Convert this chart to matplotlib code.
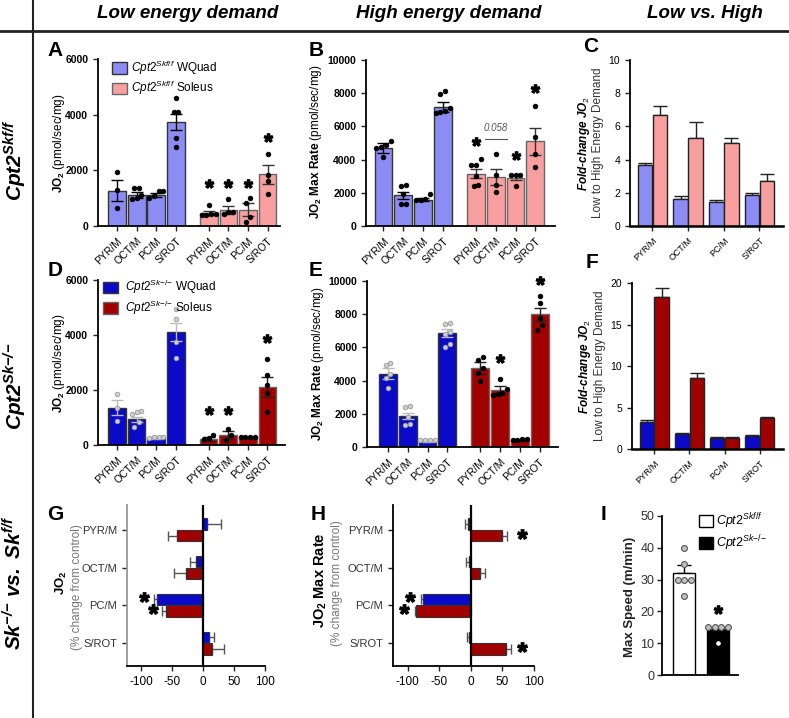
import numpy as np
import matplotlib
matplotlib.use('Agg')
import matplotlib.pyplot as plt
from matplotlib.patches import Patch
from matplotlib.lines import Line2D
from matplotlib.textpath import TextPath
from matplotlib.path import Path
from matplotlib.font_manager import FontProperties

plt.rcParams['font.family'] = ['Liberation Sans', 'DejaVu Sans']
plt.rcParams['mathtext.fontset'] = 'custom'
plt.rcParams['mathtext.rm'] = 'Liberation Sans'
plt.rcParams['mathtext.it'] = 'Liberation Sans:italic'
plt.rcParams['mathtext.bf'] = 'Liberation Sans:bold'
plt.rcParams['mathtext.sf'] = 'Liberation Sans:bold:italic'
plt.rcParams['axes.unicode_minus'] = False

subs = ['PYR/M', 'OCT/M', 'PC/M', 'S/ROT']

# A  low energy demand, Cpt2 Skf/f
a_wq = [1270, 1115, 1115, 3725]
a_wq_err = [380, 120, 80, 290]
a_wq_pts = [[1930, 1290, 635], [1380, 1370, 1120, 990, 970], [1260, 1250, 1080, 1000],
            [4590, 4090, 4080, 3150, 2830]]
a_sol = [480, 575, 587, 1855]
a_sol_err = [70, 140, 240, 330]
a_sol_pts = [[755, 430, 420, 410, 400], [970, 520, 510, 420], [1020, 820, 320, 150],
             [2600, 1850, 1600, 1140]]
a_star = [1410, 1410, 1410, 3050]

# B  high energy demand, Cpt2 Skf/f
b_wq = [4670, 1850, 1590, 7140]
b_wq_err = [300, 200, 100, 300]
b_wq_pts = [[5100, 4850, 4750, 4700, 4170], [2450, 2430, 1950, 1350, 1330],
            [1910, 1600, 1590, 1580], [8150, 7950, 7100, 6900, 6850, 6800]]
b_sol = [3150, 2950, 2900, 5100]
b_sol_err = [260, 500, 150, 800]
b_sol_pts = [[4050, 3700, 3650, 3000, 2450, 2400], [4330, 3050, 2500, 2050],
             [3100, 3080, 3060, 2400], [7230, 5370, 4330, 3560]]
b_star = [4870, None, 4040, 8070]
b_pval = '0.058'
b_pval_y = 5270

# C  fold change, Cpt2 Skf/f
c_wq = [3.65, 1.62, 1.47, 1.88]
c_wq_err = [0.15, 0.2, 0.07, 0.08]
c_sol = [6.7, 5.3, 5.0, 2.7]
c_sol_err = [0.5, 0.95, 0.3, 0.45]

# D  low energy demand, Cpt2 Sk-/-
d_wq = [1360, 935, 250, 4110]
d_wq_err = [270, 100, 30, 320]
d_wq_pts = [[1850, 1330, 870], [1240, 1200, 1120, 850, 670], [300, 290, 280, 270],
            [4960, 4600, 3760, 3150]]
d_sol = [220, 365, 280, 2120]
d_sol_err = [60, 150, 20, 370]
d_sol_pts = [[365, 240, 220], [600, 360, 180], [300, 295, 290, 285],
             [3130, 2550, 2180, 1880, 1190]]
d_star = [1115, 1115, None, 3760]

# E  high energy demand, Cpt2 Sk-/-
e_wq = [4420, 1870, 340, 6850]
e_wq_err = [330, 200, 40, 250]
e_wq_pts = [[5050, 4950, 4400, 4150, 3550], [2450, 2380, 1800, 1400, 1350],
            [440, 430, 420, 410], [7500, 7400, 6900, 6800, 6200, 6000]]
e_sol = [4760, 3410, 400, 7990]
e_sol_err = [380, 240, 30, 390]
e_sol_pts = [[5450, 5250, 4750, 4450, 3950], [4100, 3500, 3250, 3200, 3150],
             [480, 460, 450, 440], [9080, 8670, 7770, 7330, 7030]]
e_star = [None, 5120, None, 9840]

# F  fold change, Cpt2 Sk-/-
f_wq = [3.2, 1.8, 1.3, 1.6]
f_wq_err = [0.25, 0.15, 0.1, 0.08]
f_sol = [18.3, 8.5, 1.3, 3.7]
f_sol_err = [1.1, 0.7, 0.2, 0.2]

# G / H  % change from control
g_wq = [7, -12, -74, 10]
g_wq_err = [22, 9, 6, 8]
g_sol = [-43, -27, -60, 15]
g_sol_err = [13, 20, 6, 19]
g_star_wq = [None, None, -95, None]
g_star_sol = [None, None, -81, None]

h_wq = [-4, -3, -75, -3]
h_wq_err = [5, 5, 3, 3]
h_sol = [50, 14, -86, 55]
h_sol_err = [8, 8, 2, 8]
h_star_wq = [None, None, -96, None]
h_star_sol = [81, None, -106, 81]

# I  treadmill
i_mean = [32, 14]
i_err = [2.5, 0.6]
i_pts = [[40, 35, 30, 30, 30, 25], [15, 15, 15, 15, 10]]
i_star = 19.5

# colours
lblue, pink = '#8c8cf5', '#fa9f9f'
dblue, dred = '#0a0ac8', '#a00000'

W, H = 789, 718
fig = plt.figure(figsize=(W / 100, H / 100), dpi=100)


def px_axes(l, t, r, b):
    return fig.add_axes([l / W, 1 - b / H, (r - l) / W, (b - t) / H])


def ftext(x, y, s, **kw):
    kw.setdefault('ha', 'center')
    kw.setdefault('va', 'center')
    return fig.text(x / W, 1 - y / H, s, **kw)


tp = TextPath((0, 0), '*', size=1, prop=FontProperties(family='Liberation Sans', weight='bold'))
v = tp.vertices
star = Path(v - (v.min(0) + v.max(0)) / 2, tp.codes)


def swarm(vals, span, width=0.24):
    vals = np.asarray(vals, float)
    order = np.argsort(vals)
    offs = np.zeros(len(vals))
    groups, cur = [], [order[0]]
    for i in order[1:]:
        if abs(vals[i] - vals[cur[-1]]) < span:
            cur.append(i)
        else:
            groups.append(cur)
            cur = [i]
    groups.append(cur)
    for g in groups:
        for k, i in enumerate(g):
            offs[i] = (k - (len(g) - 1) / 2) * width
    return offs


def style(ax, lw=1.3):
    for s in ['top', 'right']:
        ax.spines[s].set_visible(False)
    ax.spines['left'].set_linewidth(lw)
    ax.spines['bottom'].set_linewidth(lw)
    ax.tick_params(width=1, length=3.5, color='#222')


def bar_panel(ax, vals1, err1, pts1, vals2, err2, pts2, stars, c1, c2, ymax,
              pc1=('k', 'k'), ec1='k', ec2='#222', xr=8.3):
    x1 = np.arange(4)
    x2 = np.arange(4) + 4.67
    ax.bar(x1, vals1, 0.9, color=c1, edgecolor='#333', lw=1, zorder=2)
    ax.bar(x2, vals2, 0.9, color=c2, edgecolor='#666', lw=1, zorder=2)
    ax.errorbar(x1, vals1, yerr=err1, fmt='none', ecolor=ec1, elinewidth=1, capsize=4, zorder=3)
    ax.errorbar(x2, vals2, yerr=err2, fmt='none', ecolor=ec2, elinewidth=1, capsize=4, zorder=3)
    for xs, pts, pc in [(x1, pts1, pc1), (x2, pts2, ('k', 'k'))]:
        for x, p in zip(xs, pts):
            ax.plot(x + swarm(p, 0.035 * ymax), p, 'o', ms=3.3, mfc=pc[0], mec=pc[1],
                    mew=0.6, ls='none', zorder=4)
    for x, s in zip(x2, stars):
        if s is not None:
            ax.plot(x, s, marker=star, ms=11, color='k', ls='none', clip_on=False, zorder=5)
    ax.set_xlim(-0.97, xr)
    ax.set_ylim(0, ymax)
    ax.set_xticks(list(x1) + list(x2))
    ax.set_xticklabels(subs + subs, rotation=45, ha='right', rotation_mode='anchor', fontsize=7.5)
    style(ax)
    return x1, x2


def bold_yticks(ax, ticks):
    ax.set_yticks(ticks)
    for t in ax.get_yticklabels():
        t.set_fontweight('bold')
        t.set_fontsize(7.5)


def fold_panel(ax, vals1, err1, vals2, err2, c1, c2, ymax, step):
    x = np.arange(4)
    ax.bar(x - 0.21, vals1, 0.41, color=c1, edgecolor='#222', lw=1, zorder=2)
    ax.bar(x + 0.21, vals2, 0.41, color=c2, edgecolor='#222', lw=1, zorder=2)
    ax.errorbar(x - 0.21, vals1, yerr=[np.zeros(4), err1], fmt='none', ecolor='#222',
                elinewidth=1, capsize=5, zorder=1)
    ax.errorbar(x + 0.21, vals2, yerr=[np.zeros(4), err2], fmt='none', ecolor='#222',
                elinewidth=1, capsize=5, zorder=1)
    ax.set_xlim(-0.63, 3.66)
    ax.set_ylim(0, ymax)
    ax.set_yticks(np.arange(0, ymax + 0.1, step))
    ax.set_xticks(x)
    ax.set_xticklabels(subs, rotation=45, ha='right', rotation_mode='anchor', fontsize=6.5)
    ax.tick_params(axis='y', labelsize=7.5)
    style(ax)
    ax.spines['bottom'].set_linewidth(1.8)


def pct_panel(ax, v1, e1, v2, e2, s1, s2, left_col):
    y = np.arange(4)
    ax.barh(y - 0.155, v1, 0.3, color=dblue, edgecolor='#333', lw=0.8, zorder=2)
    ax.barh(y + 0.155, v2, 0.3, color=dred, edgecolor='#333', lw=0.8, zorder=2)
    for yy, vals, errs in [(y - 0.155, v1, e1), (y + 0.155, v2, e2)]:
        for yi, vi, ei in zip(yy, vals, errs):
            xe = [[ei], [0]] if vi < 0 else [[0], [ei]]
            ax.errorbar(vi, yi, xerr=xe, fmt='none', ecolor='#555', elinewidth=1,
                        capsize=3.5, zorder=1)
    for yy, ss in [(y - 0.155, s1), (y + 0.155, s2)]:
        for yi, si in zip(yy, ss):
            if si is not None:
                ax.plot(si, yi + 0.05, marker=star, ms=12.5, color='k', ls='none',
                        clip_on=False, zorder=5)
    ax.axvline(0, color='k', lw=1.6, zorder=3)
    ax.set_xlim(-123, 100)
    ax.set_ylim(3.61, -0.66)
    ax.set_xticks([-100, -50, 0, 50, 100])
    ax.set_yticks(y)
    ax.set_yticklabels(subs, fontsize=8, color='#333')
    ax.tick_params(axis='x', labelsize=8.5)
    style(ax)
    ax.spines['left'].set_color(left_col)


ko = r'Sk{-}/{-}'

# A
ax = px_axes(98, 59, 280, 226)
bar_panel(ax, a_wq, a_wq_err, a_wq_pts, a_sol, a_sol_err, a_sol_pts, a_star,
          lblue, pink, 6000, ec2='#333')
bold_yticks(ax, [0, 2000, 4000, 6000])
ax.legend([Patch(fc=lblue, ec='#333'), Patch(fc=pink, ec='#666')],
          [r'$\mathit{Cpt2}^{\mathit{Skf/f}}$ WQuad', r'$\mathit{Cpt2}^{\mathit{Skf/f}}$ Soleus'],
          loc='upper left', bbox_to_anchor=(0.05, 1.03), frameon=False, fontsize=8.5,
          handlelength=1.3, handleheight=1.1, handletextpad=0.3, labelspacing=0.2,
          borderaxespad=0)

# B
ax = px_axes(366, 60, 555, 226)
x1, x2 = bar_panel(ax, b_wq, b_wq_err, b_wq_pts, b_sol, b_sol_err, b_sol_pts, b_star,
                   lblue, pink, 10000, ec2='#333')
ax.set_xlim(-0.88, 8.66)
bold_yticks(ax, [0, 2000, 4000, 6000, 8000, 10000])
ax.plot([x2[1] - 0.55, x2[1] + 0.55], [b_pval_y, b_pval_y], color='#555', lw=0.8)
ax.text(x2[1], b_pval_y + 330, b_pval, ha='center', va='bottom', fontsize=7,
        style='italic', color='#555')

# C
ax = px_axes(630, 60, 783, 226)
fold_panel(ax, c_wq, c_wq_err, c_sol, c_sol_err, lblue, pink, 10, 2)

# D
ax = px_axes(98, 280, 285, 445)
bar_panel(ax, d_wq, d_wq_err, d_wq_pts, d_sol, d_sol_err, d_sol_pts, d_star,
          dblue, dred, 6000, pc1=('#cfcfcf', '#999'), ec1='#bbb', xr=8.57)
bold_yticks(ax, [0, 2000, 4000, 6000])
ax.legend([Patch(fc=dblue, ec='#333'), Patch(fc=dred, ec='#666')],
          [r'$\mathit{Cpt2}^{\mathit{' + ko + '}}$ WQuad',
           r'$\mathit{Cpt2}^{\mathit{' + ko + '}}$ Soleus'],
          loc='upper left', bbox_to_anchor=(0.0, 1.04), frameon=False, fontsize=8.5,
          handlelength=1.3, handleheight=1.1, handletextpad=0.6, labelspacing=0.2,
          borderaxespad=0)

# E
ax = px_axes(367, 281, 558, 447)
bar_panel(ax, e_wq, e_wq_err, e_wq_pts, e_sol, e_sol_err, e_sol_pts, e_star,
          dblue, dred, 10000, pc1=('#cfcfcf', '#999'), ec1='#bbb')
ax.set_xlim(-1.06, 8.6)
bold_yticks(ax, [0, 2000, 4000, 6000, 8000, 10000])

# F
ax = px_axes(632, 283, 783, 449)
fold_panel(ax, f_wq, f_wq_err, f_sol, f_sol_err, dblue, dred, 20, 5)

# G
ax = px_axes(127, 505, 265, 666)
pct_panel(ax, g_wq, g_wq_err, g_sol, g_sol_err, g_star_wq, g_star_sol, '#999')

# H
ax = px_axes(393, 505, 534, 666)
pct_panel(ax, h_wq, h_wq_err, h_sol, h_sol_err, h_star_wq, h_star_sol, 'k')

# I
ax = px_axes(662, 516, 738, 675)
xi = np.array([0, 1])
ax.bar(xi, i_mean, 0.65, color=['white', 'black'], edgecolor='k', lw=1, zorder=2)
ax.errorbar(xi[0], i_mean[0], yerr=[[0], [i_err[0]]], fmt='none', ecolor='k',
            elinewidth=1, capsize=5, zorder=1)
ax.errorbar(xi[1], i_mean[1], yerr=[[0], [i_err[1]]], fmt='none', ecolor='k',
            elinewidth=1, capsize=5, zorder=1)
for x, p in zip(xi, i_pts):
    offs = swarm(p, 1.0, width=0.19)
    for xo, yv in zip(offs, p):
        inside = (x == 1 and yv < i_mean[1] - 1)
        ax.plot(x + xo, yv, 'o', ms=2.5 if inside else 4.2,
                mfc='white' if inside else '#c0c0c0', mec='white' if inside else '#555',
                mew=0.8, zorder=4, clip_on=False)
ax.plot(xi[1], i_star, marker=star, ms=11, color='k', ls='none', zorder=5)
ax.set_xlim(-0.65, 1.59)
ax.set_ylim(0, 50)
ax.set_xticks([])
ax.set_yticks(range(0, 51, 10))
ax.tick_params(axis='y', labelsize=9, labelcolor='#333', pad=2)
style(ax)
ax.legend([Patch(fc='white', ec='k'), Patch(fc='black', ec='k')],
          [r'$\mathit{Cpt2}^{\mathit{Skf/f}}$', r'$\mathit{Cpt2}^{\mathit{' + ko + '}}$'],
          loc='upper left', bbox_to_anchor=(0.42, 1.06), frameon=False, fontsize=9,
          handlelength=1.1, handleheight=1.1, handletextpad=0.3, labelspacing=0.15,
          borderaxespad=0)

# axis labels
jo2 = r'$\mathbf{JO_2}$ (pmol/sec/mg)'
ftext(59, 143, jo2, rotation=90, fontsize=8.5)
ftext(59, 363, jo2, rotation=90, fontsize=8.5)
jmax = r'$\mathbf{JO_2\ Max\ Rate}$ (pmol/sec/mg)'
ftext(316, 142, jmax, rotation=90, fontsize=8.5)
ftext(318, 364, jmax, rotation=90, fontsize=8.5)
for xa, xb, yc in [(584, 598, 143), (585, 600, 366)]:
    ftext(xa, yc, r'Fold-change JO$_2$', rotation=90, fontsize=8.5, fontweight='bold',
          style='italic')
    ftext(xb, yc, 'Low to High Energy Demand', rotation=90, fontsize=8.5, color='#333')
ftext(61, 583, r'$\mathbf{JO_2}$', rotation=90, fontsize=9.5)
ftext(77, 587, '(% change from control)', rotation=90, fontsize=8.5, color='#777')
ftext(321, 580, r'$\mathbf{JO_2\ Max\ Rate}$', rotation=90, fontsize=10.5)
ftext(337, 583, '(% change from control)', rotation=90, fontsize=8.5, color='#777')
ftext(630, 597, 'Max Speed (m/min)', rotation=90, fontsize=9.5, fontweight='bold',
      color='#222')

# panel letters
for letter, x, y in [('A', 55, 51), ('B', 316, 50), ('C', 591, 47), ('D', 55, 270),
                     ('E', 316, 270), ('F', 592, 262), ('G', 55, 515), ('H', 318, 514),
                     ('I', 603, 515)]:
    ftext(x, y, letter, fontsize=15, fontweight='bold')

# column headers and row labels
for s, x in [('Low energy demand', 188), ('High energy demand', 449), ('Low vs. High', 705)]:
    ftext(x, 13, s, fontsize=13.5, fontweight='bold', style='italic')
ftext(15, 160, r'$\mathsf{Cpt2}^{\mathsf{Skf/f}}$', rotation=90, fontsize=15)
ftext(15, 386, r'$\mathsf{Cpt2}^{\mathsf{' + ko + '}}$', rotation=90, fontsize=15)
ftext(14, 583, r'$\mathsf{Sk}^{\mathsf{{-}/{-}}}\ \mathsf{vs.\ Sk}^{\mathsf{f/f}}$', rotation=90,
      fontsize=15)

fig.add_artist(Line2D([33 / W, 33 / W], [0, 1], color='#222', lw=1.5, transform=fig.transFigure))
fig.add_artist(Line2D([0, 1], [1 - 31 / H, 1 - 31 / H], color='#222', lw=2,
                      transform=fig.transFigure))

fig.savefig('out.png', dpi=100)
